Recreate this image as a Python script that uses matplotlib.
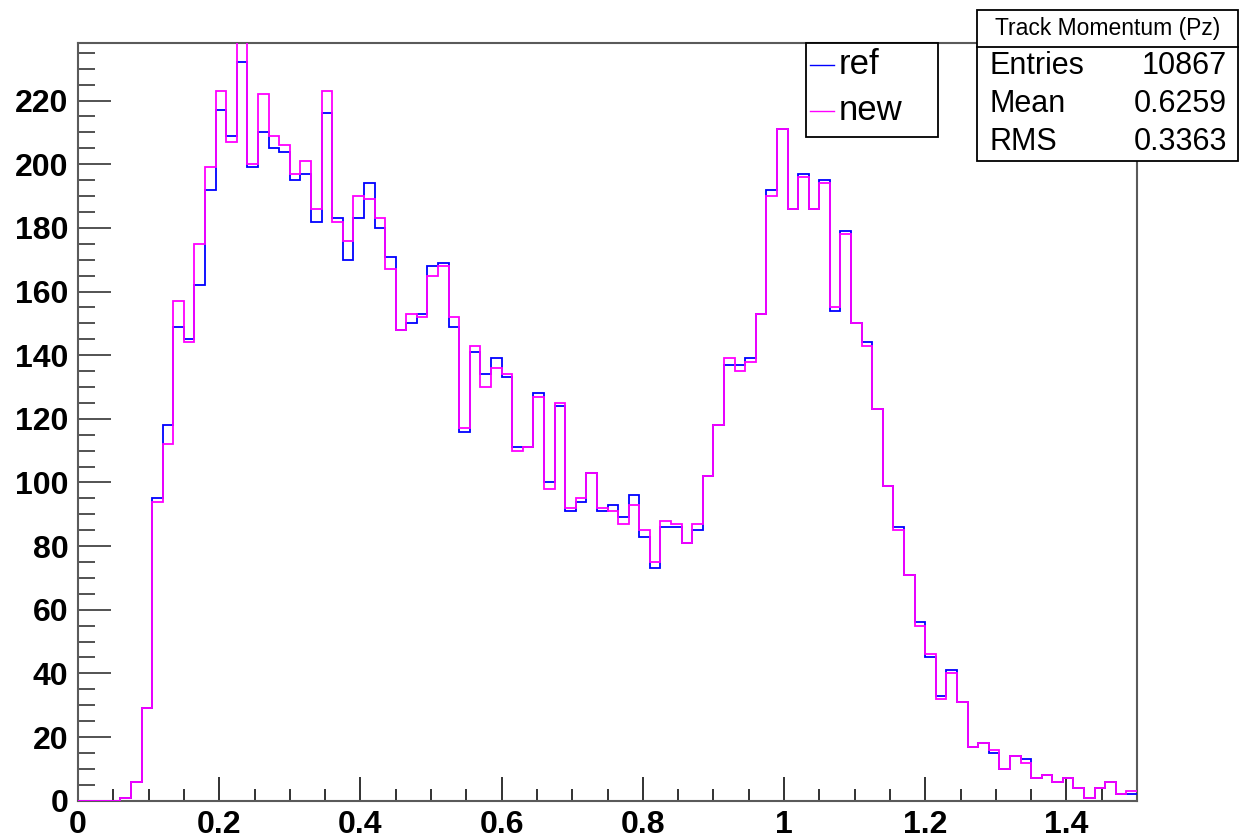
import numpy as np
import matplotlib
matplotlib.use("Agg")
import matplotlib.pyplot as plt
from matplotlib.patches import Rectangle
from matplotlib.lines import Line2D
from matplotlib.ticker import MultipleLocator, FuncFormatter

# ---- data ----
x_min, x_max, n_bins = 0.0, 1.5, 100
ref_counts = [0, 0, 0, 0, 1, 6, 29, 95, 118, 149,
              145, 162, 192, 217, 209, 232, 199, 210, 205, 204,
              195, 197, 182, 216, 183, 170, 183, 194, 180, 171,
              148, 150, 153, 168, 169, 149, 116, 141, 134, 139,
              133, 111, 111, 128, 100, 124, 91, 94, 103, 91,
              93, 89, 96, 83, 73, 86, 86, 81, 85, 102,
              118, 137, 137, 139, 153, 192, 211, 186, 197, 186,
              195, 154, 179, 150, 144, 123, 99, 86, 71, 56,
              45, 33, 41, 31, 17, 18, 15, 10, 14, 13,
              7, 8, 6, 7, 4, 1, 4, 6, 2, 2]
new_counts = [0, 0, 0, 0, 1, 6, 29, 94, 112, 157,
              144, 175, 199, 223, 207, 240, 200, 222, 209, 206,
              197, 201, 186, 223, 182, 176, 190, 189, 183, 167,
              148, 153, 152, 165, 168, 152, 117, 143, 130, 136,
              134, 110, 111, 127, 98, 125, 92, 95, 103, 92,
              91, 87, 93, 85, 75, 88, 87, 81, 87, 102,
              118, 139, 135, 138, 153, 190, 211, 186, 196, 186,
              194, 155, 178, 150, 143, 123, 99, 85, 71, 55,
              46, 32, 40, 31, 17, 18, 16, 10, 14, 12,
              7, 8, 6, 7, 4, 1, 4, 6, 2, 3]
series_labels = ["ref", "new"]
title_text = "Track Momentum (Pz)"
stats_names = ["Entries", "Mean", "RMS"]
stats_values = ["10867", "0.6259", "0.3363"]
y_max = 238

W, H = 1240, 836
fig = plt.figure(figsize=(W / 100, H / 100), dpi=100)
plt.rcParams['font.family'] = ['Liberation Sans', 'DejaVu Sans']

L, R, T, B = 78, 1137, 43.3, 800.7
ax = fig.add_axes([L / W, 1 - B / H, (R - L) / W, (B - T) / H])

edges = np.linspace(x_min, x_max, n_bins + 1)
ax.stairs(ref_counts, edges, baseline=None, color="#0000ff", linewidth=1.3,
          zorder=3)
ax.stairs(new_counts, edges, baseline=None, color="#ff00ff", linewidth=1.3,
          zorder=3.1)

ax.set_xlim(x_min, x_max)
ax.set_ylim(0, y_max)

frame_col = "#5a5a5a"
for s in ax.spines.values():
    s.set_color(frame_col)
    s.set_linewidth(1.5)

ax.xaxis.set_major_locator(MultipleLocator(0.2))
ax.xaxis.set_minor_locator(MultipleLocator(0.05))
ax.yaxis.set_major_locator(MultipleLocator(20))
ax.yaxis.set_minor_locator(MultipleLocator(5))
ax.tick_params(axis="x", which="major", direction="in", length=17, width=1.3,
               color="#222222", pad=7)
ax.tick_params(axis="x", which="minor", direction="in", length=9, width=1.3,
               color="#222222")
ax.tick_params(axis="y", which="major", direction="in", length=24, width=1.3,
               color="#444444", pad=7)
ax.tick_params(axis="y", which="minor", direction="in", length=12, width=1.3,
               color="#444444")
ax.tick_params(top=False, right=False)

def fmt(v, pos):
    return "%g" % round(v, 4)
ax.xaxis.set_major_formatter(FuncFormatter(fmt))
ax.yaxis.set_major_formatter(FuncFormatter(fmt))
for lab in ax.get_xticklabels() + ax.get_yticklabels():
    lab.set_fontsize(23)
    lab.set_fontweight("bold")

def fx(px):
    return px / W
def fy(py):
    return 1 - py / H

# title, almost entirely above the top edge of the picture
fig.text(fx(826), fy(-7.5), title_text, ha="right", va="baseline",
         fontsize=24)

# legend box
lx0, lx1, ly0, ly1 = 806, 938, 43, 137
fig.add_artist(Rectangle((fx(lx0), fy(ly1)), fx(lx1) - fx(lx0), fy(ly0) - fy(ly1),
                         transform=fig.transFigure, facecolor="white",
                         edgecolor="black", linewidth=1.3, zorder=10))
leg_rows = [65, 111]
leg_cols = ["#0000ff", "#ff00ff"]
for lab, yy, col in zip(series_labels, leg_rows, leg_cols):
    fig.add_artist(Line2D([fx(810), fx(834)], [fy(yy), fy(yy)],
                          transform=fig.transFigure, color=col, linewidth=1.0,
                          zorder=11))
    fig.text(fx(839), fy(yy), lab, ha="left", va="center", fontsize=25,
             zorder=11)

# stats box
sx0, sx1, sy0, sy1 = 977, 1238, 10, 161
fig.add_artist(Rectangle((fx(sx0), fy(sy1)), fx(sx1) - fx(sx0), fy(sy0) - fy(sy1),
                         transform=fig.transFigure, facecolor="white",
                         edgecolor="black", linewidth=1.3, zorder=10))
fig.add_artist(Line2D([fx(sx0), fx(sx1)], [fy(47), fy(47)],
                      transform=fig.transFigure, color="black", linewidth=1.3,
                      zorder=11))
fig.text(fx(0.5 * (sx0 + sx1)), fy(28.5), title_text, ha="center", va="center",
         fontsize=16.5, zorder=11)
for name, val, yy in zip(stats_names, stats_values, [66, 104, 142]):
    fig.text(fx(990), fy(yy), name, ha="left", va="center", fontsize=22,
             zorder=11)
    fig.text(fx(1227), fy(yy), val, ha="right", va="center", fontsize=22,
             zorder=11)

fig.savefig("out.png", dpi=100)
